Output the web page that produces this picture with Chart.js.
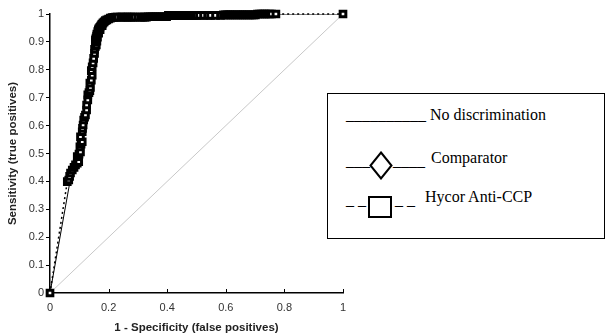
<!DOCTYPE html>
<html>
<head>
<meta charset="utf-8">
<title>ROC curve</title>
<script src="https://cdn.jsdelivr.net/npm/chart.js@4.4.1/dist/chart.umd.min.js"></script>
<style>
    html, body { margin: 0; padding: 0; background: #fff; }
    #wrap { position: relative; width: 608px; height: 336px; overflow: hidden; }
    #rocChart { position: absolute; left: 0; top: 0; }
    .legend-box {
        position: absolute; left: 327px; top: 93px; width: 278px; height: 146px;
        border: 1.5px solid #000; background: #fff; box-sizing: border-box;
    }
    .lg {
        position: absolute; white-space: pre; line-height: 16px; font-size: 16px;
        font-family: "Liberation Serif", "Times New Roman", serif; color: #000;
    }
    .lg-sym { position: absolute; }
</style>
</head>
<body>
<div id="wrap">
    <canvas id="rocChart" width="608" height="336"></canvas>
    <div class="legend-box"></div>
    <span class="lg" style="left:346px; top:107px;">__________ No discrimination</span>

    <span class="lg" style="left:346px; top:153px;">___</span>
    <svg class="lg-sym" style="left:369px; top:151px;" width="24" height="29">
        <polygon points="12,1.5 22.5,14.5 12,27.5 1.5,14.5" fill="#fff" stroke="#000" stroke-width="2"/>
    </svg>
    <span class="lg" style="left:393px; top:153px;">____</span>
    <span class="lg" style="left:431px; top:150px;">Comparator</span>

    <span class="lg" style="left:346px; top:192px;">_ _</span>
    <svg class="lg-sym" style="left:368px; top:196px;" width="24" height="22">
        <rect x="1" y="1" width="22" height="20" fill="#fff" stroke="#000" stroke-width="2"/>
    </svg>
    <span class="lg" style="left:395px; top:192px;">_ _</span>
    <span class="lg" style="left:425px; top:189px;">Hycor Anti-CCP</span>
</div>

<script>
// axis ticks
const xTickValues = [0, 0.2, 0.4, 0.6, 0.8, 1];
const xTickLabels = ['0', '0.2', '0.4', '0.6', '0.8', '1'];
const yTickValues = [0, 0.1, 0.2, 0.3, 0.4, 0.5, 0.6, 0.7, 0.8, 0.9, 1];
const yTickLabels = ['0', '0.1', '0.2', '0.3', '0.4', '0.5', '0.6', '0.7', '0.8', '0.9', '1'];

// No discrimination (reference diagonal)
const noDiscFpr = [0, 1];
const noDiscTpr = [0, 1];

// Comparator (mostly hidden under the Hycor markers)
const compFpr = [0, 0.068, 0.100, 0.125, 0.145, 0.155, 0.200, 0.771, 1];
const compTpr = [0, 0.399, 0.500, 0.660, 0.800, 0.900, 0.985, 1.000, 1];

// Hycor Anti-CCP
const hycorFpr = [
    0, 0.059, 0.064, 0.067, 0.070, 0.076, 0.082, 0.087, 0.093, 0.098,
    0.093, 0.099, 0.104, 0.102, 0.106, 0.110, 0.104, 0.110, 0.111, 0.113,
    0.115, 0.118, 0.121, 0.125, 0.125, 0.129, 0.129, 0.133, 0.136, 0.138,
    0.136, 0.141, 0.144, 0.141, 0.144, 0.147, 0.149, 0.152, 0.152, 0.155,
    0.158, 0.155, 0.160, 0.155, 0.157, 0.162, 0.159, 0.160, 0.166, 0.163,
    0.165, 0.171, 0.167, 0.170, 0.173, 0.178, 0.176, 0.178, 0.181, 0.185,
    0.189, 0.194, 0.200, 0.206, 0.212, 0.218, 0.224,
    0.230, 0.241, 0.247, 0.254, 0.261, 0.268, 0.275, 0.282, 0.288, 0.299,
    0.309, 0.316, 0.323, 0.329, 0.336, 0.343, 0.350, 0.357, 0.363, 0.370,
    0.377, 0.384, 0.391, 0.398,
    0.404, 0.411, 0.418, 0.425, 0.432, 0.439, 0.445, 0.452, 0.459, 0.466,
    0.473, 0.480, 0.486, 0.493, 0.500, 0.510, 0.524, 0.538, 0.548, 0.565,
    0.582,
    0.592, 0.599, 0.606, 0.613, 0.619, 0.626, 0.633, 0.640, 0.647, 0.654,
    0.660, 0.667, 0.674, 0.681, 0.688, 0.695, 0.701,
    0.708, 0.715, 0.722, 0.729, 0.735, 0.742, 0.749, 0.756, 0.771,
    1
];
const hycorTpr = [
    0, 0.399, 0.405, 0.418, 0.430, 0.441, 0.450, 0.459, 0.465, 0.471,
    0.489, 0.498, 0.506, 0.524, 0.533, 0.542, 0.560, 0.578, 0.590, 0.602,
    0.620, 0.630, 0.638, 0.656, 0.674, 0.692, 0.710, 0.718, 0.725, 0.737,
    0.752, 0.763, 0.781, 0.797, 0.811, 0.825, 0.841, 0.859, 0.873, 0.884,
    0.889, 0.900, 0.903, 0.907, 0.914, 0.917, 0.921, 0.928, 0.931, 0.937,
    0.943, 0.944, 0.948, 0.952, 0.957, 0.958, 0.961, 0.964, 0.968, 0.972,
    0.976, 0.979, 0.982, 0.985, 0.987, 0.988, 0.989,
    0.989, 0.989, 0.989, 0.989, 0.989, 0.989, 0.989, 0.989, 0.989, 0.989,
    0.989, 0.989, 0.989, 0.989, 0.990, 0.990, 0.990, 0.990, 0.990, 0.990,
    0.990, 0.990, 0.990, 0.990,
    0.995, 0.995, 0.995, 0.995, 0.995, 0.995, 0.995, 0.995, 0.995, 0.995,
    0.995, 0.995, 0.995, 0.995, 0.995, 0.995, 0.995, 0.995, 0.995, 0.995,
    0.995,
    0.997, 0.997, 0.997, 0.997, 0.997, 0.997, 0.997, 0.997, 0.997, 0.997,
    0.997, 0.997, 0.997, 0.997, 0.997, 0.997, 0.997,
    1.000, 1.000, 1.000, 1.000, 1.000, 1.000, 1.000, 1.000, 1.000,
    1
];

function toPoints(xs, ys) {
    return xs.map((x, i) => ({ x: x, y: ys[i] }));
}

// x ticks in the picture point inwards, Chart.js only draws them outwards
const innerXTicks = {
    id: 'innerXTicks',
    afterDraw(chart) {
        const ctx = chart.ctx;
        const xScale = chart.scales.x;
        ctx.save();
        ctx.strokeStyle = '#000';
        ctx.lineWidth = 1;
        xScale.ticks.forEach(t => {
            if (t.value === 0) return;
            const px = Math.round(xScale.getPixelForValue(t.value)) + 0.5;
            ctx.beginPath();
            ctx.moveTo(px, xScale.top);
            ctx.lineTo(px, xScale.top - 4);
            ctx.stroke();
        });
        ctx.restore();
    }
};

const tickFont = { family: 'Arial, "Liberation Sans", sans-serif', size: 11 };
const titleFont = { family: 'Arial, "Liberation Sans", sans-serif', size: 11.5, weight: 'bold' };

const ctx = document.getElementById('rocChart').getContext('2d');
new Chart(ctx, {
    type: 'line',
    data: {
        datasets: [
            {
                label: 'Hycor Anti-CCP',
                data: toPoints(hycorFpr, hycorTpr),
                borderColor: '#000',
                borderWidth: 1.5,
                borderDash: [2, 3],
                pointStyle: 'rect',
                pointRadius: 4,
                pointBorderWidth: 3,
                pointBorderColor: '#000',
                pointBackgroundColor: '#fff',
                tension: 0,
                clip: false,
                order: 0
            },
            {
                label: 'Comparator',
                data: toPoints(compFpr, compTpr),
                borderColor: '#000',
                borderWidth: 1,
                pointStyle: 'rectRot',
                pointRadius: 0,
                tension: 0,
                order: 1
            },
            {
                label: 'No discrimination',
                data: toPoints(noDiscFpr, noDiscTpr),
                borderColor: '#c8c8c8',
                borderWidth: 1,
                pointRadius: 0,
                tension: 0,
                order: 2
            }
        ]
    },
    options: {
        responsive: false,
        animation: false,
        layout: { padding: { top: 14, right: 265, bottom: 0, left: 0 } },
        plugins: {
            legend: { display: false },
            tooltip: { enabled: false }
        },
        scales: {
            x: {
                type: 'linear',
                min: 0,
                max: 1,
                afterBuildTicks: scale => { scale.ticks = xTickValues.map(v => ({ value: v })); },
                afterFit: scale => { scale.height = 43; },
                grid: { display: false, drawTicks: false },
                border: { display: true, color: '#000', width: 1.5 },
                ticks: {
                    padding: 8,
                    color: '#333',
                    font: tickFont,
                    maxRotation: 0,
                    callback: (value, index) => xTickLabels[index]
                },
                title: {
                    display: true,
                    text: '1 - Specificity (false positives)',
                    color: '#222',
                    font: titleFont,
                    padding: { top: 0, bottom: 1 }
                }
            },
            y: {
                type: 'linear',
                min: 0,
                max: 1,
                afterBuildTicks: scale => { scale.ticks = yTickValues.map(v => ({ value: v })); },
                afterFit: scale => { scale.width = 50; },
                grid: { drawOnChartArea: false, drawTicks: true, tickLength: 4, color: '#000' },
                border: { display: true, color: '#000', width: 1.5 },
                ticks: {
                    padding: 2,
                    color: '#333',
                    font: tickFont,
                    callback: (value, index) => yTickLabels[index]
                },
                title: {
                    display: true,
                    text: 'Sensitivity (true positives)',
                    color: '#222',
                    font: titleFont,
                    padding: { top: 6, bottom: 0 }
                }
            }
        }
    },
    plugins: [innerXTicks]
});
</script>
</body>
</html>
